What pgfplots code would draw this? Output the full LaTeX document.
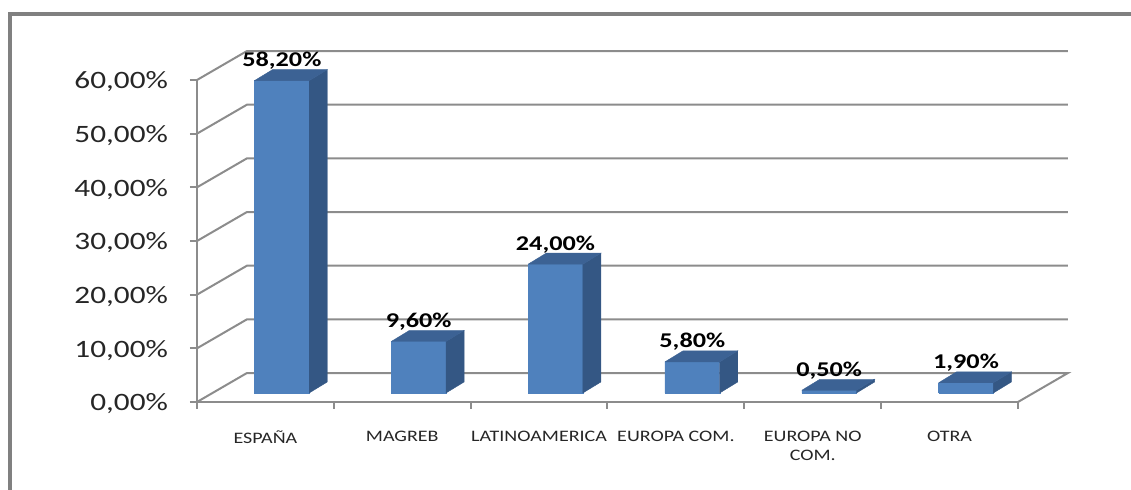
\documentclass[border=0pt]{standalone}
\usepackage{pgfplots}
\usepackage{pgfplotstable}
\pgfplotsset{compat=1.18}
\usepackage{fontspec}
\setmainfont{Carlito}[FakeStretch=1.25]

\definecolor{barfront}{RGB}{79,129,189}
\definecolor{barside}{RGB}{52,87,132}
\definecolor{bartop}{RGB}{60,98,148}
\definecolor{gridgray}{RGB}{140,140,140}
\definecolor{framegray}{RGB}{128,128,128}
\definecolor{labelgray}{RGB}{38,38,38}

% share of each origin, in percent
\pgfplotstableread{
x v
0 58.2
1 9.6
2 24.0
3 5.8
4 0.5
5 1.9
}\datatable

\begin{document}
\begin{tikzpicture}
  \path[use as bounding box] (0,0) rectangle (565.5pt,245pt);
  \begin{axis}[
      at={(98.5pt,44pt)}, anchor=south west,
      scale only axis, width=410.5pt, height=161pt,
      xmin=-0.5, xmax=5.5, ymin=0, ymax=60,
      clip=false,
      axis lines*=left,
      axis line style={draw=gridgray, line width=1pt, -},
      tick style={draw=gridgray, line width=1pt},
      tick align=outside,
      major tick length=3.5pt,
      /pgf/number format/assume math mode=true,
      ytick={0,10,...,60},
      yticklabel={\pgfmathprintnumber[fixed,fixed zerofill,precision=2,use comma,1000 sep={}]{\tick}\%},
      yticklabel style={font=\fontsize{12.5}{15}\selectfont, text=labelgray, xshift=-7.5pt, yshift=-1pt},
      xtick={-0.5,0.5,...,5.5}, xticklabels={},
      extra x ticks={0,1,2,3,4,5},
      extra x tick labels={ESPAÑA,MAGREB,LATINOAMERICA,EUROPA COM.,{EUROPA NO\\COM.},OTRA},
      extra x tick style={major tick length=0pt},
      x tick label style={font=\fontsize{8}{9.5}\selectfont, align=center, text=labelgray, yshift=-11pt},
    ]
    % side wall and back wall grid
    \draw[gridgray, line width=1pt]
      (axis cs:-0.5,0) -- (axis cs:-0.135,5.4) -- (axis cs:5.865,5.4) -- (axis cs:5.5,0)
      (axis cs:-0.5,10) -- (axis cs:-0.135,15.4) -- (axis cs:5.865,15.4)
      (axis cs:-0.5,20) -- (axis cs:-0.135,25.4) -- (axis cs:5.865,25.4)
      (axis cs:-0.5,30) -- (axis cs:-0.135,35.4) -- (axis cs:5.865,35.4)
      (axis cs:-0.5,40) -- (axis cs:-0.135,45.4) -- (axis cs:5.865,45.4)
      (axis cs:-0.5,50) -- (axis cs:-0.135,55.4) -- (axis cs:5.865,55.4)
      (axis cs:-0.5,60) -- (axis cs:-0.135,65.4) -- (axis cs:5.865,65.4);

    % 3d bars: front, side and top faces
    \pgfplotsforeachungrouped \i in {0,...,5}{%
      \pgfplotstablegetelem{\i}{v}\of\datatable
      \let\val\pgfplotsretval
      \pgfmathsetmacro\xa{\i-0.08}
      \pgfmathsetmacro\xb{\i+0.32}
      \pgfmathsetmacro\xc{\i+0.452}
      \pgfmathsetmacro\xd{\i+0.052}
      \pgfmathsetmacro\yb{\val+1.68}
      \pgfmathsetmacro\yc{\val+3.73}
      \addplot[fill=barfront, draw=barfront, line width=0.2pt]
        coordinates {(\xa,1.68) (\xb,1.68) (\xb,\yb) (\xa,\yb) (\xa,1.68)};
      \addplot[fill=barside, draw=barside, line width=0.2pt]
        coordinates {(\xb,1.68) (\xc,3.73) (\xc,\yc) (\xb,\yb) (\xb,1.68)};
      \addplot[fill=bartop, draw=bartop, line width=0.2pt]
        coordinates {(\xa,\yb) (\xb,\yb) (\xc,\yc) (\xd,\yc) (\xa,\yb)};
    }

    % value labels
    \addplot[draw=none, point meta=explicit,
      nodes near coords={\pgfmathprintnumber[fixed,fixed zerofill,precision=2,use comma]{\pgfplotspointmeta}\%},
      every node near coord/.append style={anchor=base, yshift=1.5pt, text=black,
        font=\bfseries\fontsize{10.5}{12}\selectfont}]
      table[x expr=\thisrow{x}+0.12, y expr=\thisrow{v}+3.73, meta=v]{\datatable};
  \end{axis}
  \draw[framegray, line width=2pt] (5pt,0pt) -- (5pt,238pt) -- (566pt,238pt);
\end{tikzpicture}
\end{document}
